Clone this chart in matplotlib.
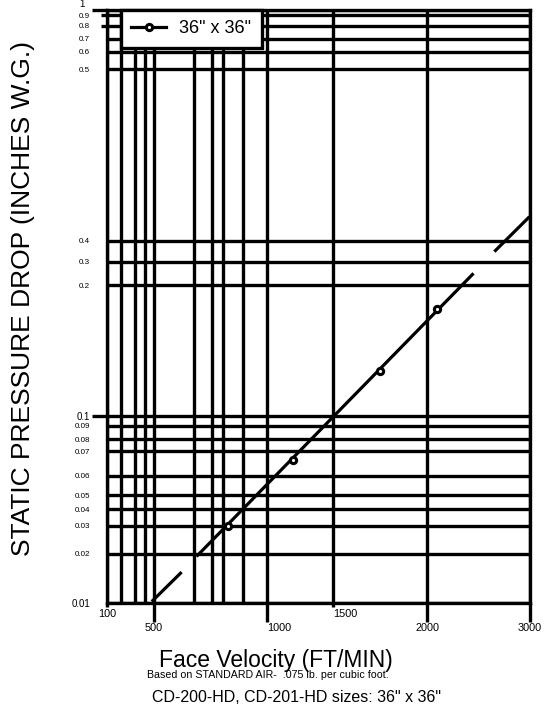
import numpy as np
import matplotlib
matplotlib.use("Agg")
import matplotlib.pyplot as plt
from matplotlib.lines import Line2D
from matplotlib.transforms import ScaledTranslation

plt.rcParams['font.family'] = ['Liberation Sans', 'DejaVu Sans']

# ---------------- data ----------------
VELOCITY_GRID = [100, 200, 300, 400, 500, 600, 700, 800, 900, 1000, 1500, 2000, 3000]
PRESSURE_GRID = [0.01, 0.02, 0.03, 0.04, 0.05, 0.06, 0.07, 0.08, 0.09,
                 0.1, 0.2, 0.3, 0.4, 0.5, 0.6, 0.7, 0.8, 0.9, 1.0]

X_MAJOR = [500, 1000, 2000, 3000]
X_MAJOR_LABELS = ['500', '1000', '2000', '3000']
X_MINOR = [100, 1500]
X_MINOR_LABELS = ['100', '1500']

Y_MAJOR = [0.01, 0.1, 1.0]
Y_MAJOR_LABELS = ['0.01', '0.1', '1']
Y_MINOR = [0.02, 0.03, 0.04, 0.05, 0.06, 0.07, 0.08, 0.09,
           0.2, 0.3, 0.4, 0.5, 0.6, 0.7, 0.8, 0.9]
Y_MINOR_LABELS = ['0.02', '0.03', '0.04', '0.05', '0.06', '0.07', '0.08', '0.09',
                  '0.2', '0.3', '0.4', '0.5', '0.6', '0.7', '0.8', '0.9']

SERIES_LABEL = '36" x 36"'
# dashed performance line (NaN = gap)
LINE_VEL = [475, 569, np.nan, 614, 2454, np.nan, 2657, 3000]
LINE_SP = [0.0103, 0.0163, np.nan, 0.0195, 0.250, np.nan, 0.348, 0.414]
# measured points
MARK_VEL = [825, 1197, 1750, 2098]
MARK_SP = [0.030, 0.0664, 0.134, 0.182]

# ---------------- layout (non-uniform chart scale) ----------------
W, H = 547, 725
AX_L, AX_R, AX_T, AX_B = 107, 529.5, 10, 603
X_SCALE_PX = [107, 121, 135, 145, 154, 194, 212, 223, 243, 267, 333, 427, 529.5]
Y_SCALE_PX = [603, 554, 525.7, 509, 495, 476, 451, 439.3, 426, 415.7,
              285, 261.7, 240.7, 69, 51.7, 38.5, 26, 15, 10]
X_LEFT_ALIGNED = [1000, 1500]
Y_TICKMARK_SHOWN = [0.8, 0.9]
LW = 2.4

xv = np.array(VELOCITY_GRID, float)
xp = np.array(X_SCALE_PX, float)
yv = np.array(PRESSURE_GRID, float)
yp = AX_B - np.array(Y_SCALE_PX, float)


def fx(v):
    return np.interp(v, xv, xp)


def ix(p):
    return np.interp(p, xp, xv)


def fy(v):
    return np.interp(v, yv, yp)


def iy(p):
    return np.interp(p, yp, yv)


fig = plt.figure(figsize=(W / 100, H / 100), dpi=100)
ax = fig.add_axes([AX_L / W, 1 - AX_B / H, (AX_R - AX_L) / W, (AX_B - AX_T) / H])
ax.set_xscale('function', functions=(fx, ix))
ax.set_yscale('function', functions=(fy, iy))
ax.set_xlim(VELOCITY_GRID[0], VELOCITY_GRID[-1])
ax.set_ylim(PRESSURE_GRID[0], PRESSURE_GRID[-1])

for v in VELOCITY_GRID:
    ax.axvline(v, color='k', lw=LW, zorder=1)
for p in PRESSURE_GRID:
    ax.axhline(p, color='k', lw=LW, zorder=1)

ax.plot(LINE_VEL, LINE_SP, color='k', lw=2.3, solid_capstyle='butt', zorder=3)
ax.plot(MARK_VEL, MARK_SP, ls='none', marker='o', ms=4.5, mew=2.2,
        mfc='white', mec='k', zorder=4)

handle = Line2D([], [], color='k', lw=2.3, marker='o', ms=4.5, mew=2.2,
                mfc='white', mec='k')
leg = ax.legend([handle], [SERIES_LABEL], loc='upper left',
                bbox_to_anchor=(121 / W, 1 - 10 / H), bbox_transform=fig.transFigure,
                borderaxespad=0, fontsize=13, frameon=True, fancybox=False,
                framealpha=1, edgecolor='k', handlelength=1.9, handletextpad=0.75,
                borderpad=0.58)
leg.get_frame().set_linewidth(LW)

for s in ax.spines.values():
    s.set_linewidth(LW)

ax.set_xticks(X_MAJOR, X_MAJOR_LABELS)
ax.set_xticks(X_MINOR, X_MINOR_LABELS, minor=True)
ax.set_yticks(Y_MAJOR, Y_MAJOR_LABELS)
ax.set_yticks(Y_MINOR, Y_MINOR_LABELS, minor=True)

ax.tick_params(axis='x', which='major', length=13.7, width=LW, pad=0.7, labelsize=7.8)
ax.tick_params(axis='x', which='minor', length=3, width=LW, pad=1.5, labelsize=7.8)
ax.tick_params(axis='y', which='major', length=10.8, width=LW, pad=1.5, labelsize=7)
ax.tick_params(axis='y', which='minor', length=4.3, width=LW, pad=8, labelsize=5.8)

for v, t in zip(X_MAJOR, ax.xaxis.get_major_ticks(len(X_MAJOR))):
    if v in X_LEFT_ALIGNED:
        t.label1.set_horizontalalignment('left')
for v, t in zip(X_MINOR, ax.xaxis.get_minor_ticks(len(X_MINOR))):
    if v in X_LEFT_ALIGNED:
        t.label1.set_horizontalalignment('left')
ymaj = ax.yaxis.get_major_ticks(len(Y_MAJOR))
ymaj[0].tick1line.set_visible(False)
# the top "1" label sits a little higher and further left
top_lbl = ymaj[-1].label1
top_lbl.set_verticalalignment('bottom')
top_lbl.set_transform(top_lbl.get_transform()
                      + ScaledTranslation(-5 / 100, 1 / 100, fig.dpi_scale_trans))
for v, t in zip(Y_MINOR, ax.yaxis.get_minor_ticks(len(Y_MINOR))):
    if v not in Y_TICKMARK_SHOWN:
        t.tick1line.set_visible(False)

ax.set_xlabel('Face Velocity (FT/MIN)', fontsize=16.5, va='baseline')
ax.xaxis.set_label_coords((275.5 - AX_L) / (AX_R - AX_L), (AX_B - 667) / (AX_B - AX_T))
ax.set_ylabel('STATIC PRESSURE DROP (INCHES W.G.)', fontsize=19, va='center')
ax.yaxis.set_label_coords((23.5 - AX_L) / (AX_R - AX_L), (AX_B - 299) / (AX_B - AX_T))

fig.text(268 / W, 1 - 678.5 / H, 'Based on STANDARD AIR-  .075 lb. per cubic foot.',
         ha='center', va='baseline', fontsize=7.7)
fig.text(296 / W, 1 - 701.7 / H, 'CD-200-HD, CD-201-HD sizes: 36" x 36"',
         ha='center', va='baseline', fontsize=11.5)

fig.savefig('out.png', dpi=100)
